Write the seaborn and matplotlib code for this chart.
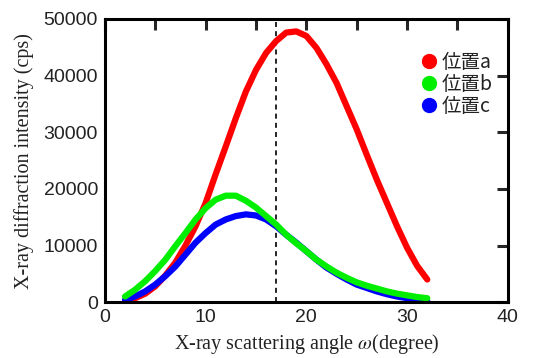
import numpy as np
import pandas as pd
import matplotlib
matplotlib.use("Agg")
import matplotlib.pyplot as plt
import seaborn as sns
from matplotlib.ticker import MultipleLocator
from matplotlib.lines import Line2D

angle = [2, 3, 4, 5, 6, 7, 8, 9, 10, 11, 12, 13, 14, 15, 16, 17, 18, 19, 20, 21,
         22, 23, 24, 25, 26, 27, 28, 29, 30, 31, 32]
pos_a = [200, 700, 1500, 2800, 4700, 7000, 10000, 13400, 17500, 22600, 27500, 32500,
         37200, 41000, 44000, 46100, 47600, 47800, 47000, 44900, 42000, 38700, 34600,
         30500, 26000, 21600, 17500, 13400, 9600, 6400, 4000]
pos_b = [1000, 2200, 3700, 5500, 7500, 9900, 12200, 14600, 16600, 18100, 18800, 18800,
         17900, 16700, 15200, 13700, 11900, 10400, 9000, 7500, 6300, 5200, 4300, 3500,
         2900, 2400, 1900, 1500, 1200, 900, 700]
pos_c = [400, 1000, 1900, 3100, 4600, 6300, 8400, 10500, 12200, 13700, 14600, 15200,
         15500, 15300, 14600, 13400, 11900, 10500, 9000, 7500, 6100, 5000, 4000, 3100,
         2500, 1900, 1400, 1000, 700, 450, 200]
labels = ["位置a", "位置b", "位置c"]
colors = ["#ff0000", "#00ee00", "#0000ff"]
x_ticks = [0, 10, 20, 30, 40]
y_ticks = [0, 10000, 20000, 30000, 40000, 50000]
peak_line = 17

df = pd.DataFrame({
    "angle": angle * 3,
    "intensity": pos_a + pos_b + pos_c,
    "pos": [labels[0]] * len(angle) + [labels[1]] * len(angle) + [labels[2]] * len(angle),
})

sns.set_style("white")
plt.rcParams["font.family"] = ["Liberation Sans", "Noto Sans CJK JP", "DejaVu Sans"]
plt.rcParams["mathtext.fontset"] = "stix"

fig = plt.figure(figsize=(5.52, 3.58), dpi=100)
ax = fig.add_axes([0.19, 0.156, 0.73, 0.791])

for lab, col in [(labels[0], colors[0]), (labels[2], colors[2]), (labels[1], colors[1])]:
    sns.lineplot(data=df[df["pos"] == lab], x="angle", y="intensity", color=col,
                 lw=4.5, ax=ax, legend=False, solid_capstyle="round",
                 solid_joinstyle="round")

ax.axvline(peak_line, color="black", ls=(0, (3, 2.5)), lw=1.2, zorder=0)

ax.set_xlim(0, 40)
ax.set_ylim(0, 50000)
ax.set_xticks(x_ticks)
ax.set_yticks(y_ticks)
ax.xaxis.set_minor_locator(MultipleLocator(5))
ax.tick_params(which="both", direction="in", top=True, right=True, width=2.2,
               labelsize=14, pad=5, labelcolor="#222222")
ax.tick_params(which="major", length=8)
ax.tick_params(which="minor", length=8)
for s in ax.spines.values():
    s.set_linewidth(2.2)
    s.set_color("black")

ax.set_xlabel("X-ray scattering angle $\\mathit{\\omega}$(degree)",
              family="Liberation Serif", fontsize=14.5, labelpad=4, color="#222222")
ax.set_ylabel("X-ray diffraction intensity (cps)", family="Liberation Serif",
              fontsize=14.5, labelpad=7, color="#222222")

handles = [Line2D([], [], marker="o", ls="", color=c, markersize=10) for c in colors]
leg = ax.legend(handles, labels, loc="upper right", bbox_to_anchor=(1.005, 0.945),
                frameon=False, handlelength=0.8, handletextpad=0.25, labelspacing=0.05,
                prop={"family": ["Noto Sans CJK JP", "DejaVu Sans"], "size": 14})
for t in leg.get_texts():
    t.set_color("#222222")

fig.savefig("out.png", dpi=100)
